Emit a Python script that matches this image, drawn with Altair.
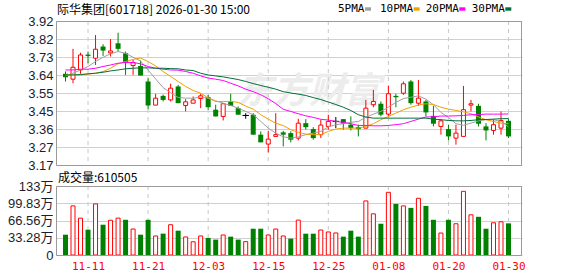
import json
import altair as alt
import pandas as pd
import numpy as np

# ---------------- data ----------------
dates = ["11-06","11-07","11-10","11-11","11-12","11-13","11-14","11-17","11-18","11-19",
         "11-20","11-21","11-24","11-25","11-26","11-27","11-28","12-01","12-02","12-03",
         "12-04","12-05","12-08","12-09","12-10","12-11","12-12","12-15","12-16","12-17",
         "12-18","12-19","12-22","12-23","12-24","12-25","12-26","12-29","12-30","12-31",
         "01-05","01-06","01-07","01-08","01-09","01-12","01-13","01-14","01-15","01-16",
         "01-19","01-20","01-21","01-22","01-23","01-26","01-27","01-28","01-29","01-30"]

opens = [3.645,3.617,3.665,3.745,3.726,3.787,3.754,3.804,3.752,3.688,
         3.686,3.605,3.482,3.530,3.509,3.579,3.480,3.492,3.516,3.523,
         3.458,3.423,3.501,3.466,3.428,3.432,3.328,3.279,3.319,3.340,
         3.336,3.310,3.388,3.357,3.328,3.371,3.397,3.409,3.380,3.367,
         3.362,3.484,3.489,3.435,3.530,3.544,3.605,3.492,3.501,3.426,
         3.371,3.357,3.310,3.319,3.482,3.478,3.371,3.350,3.362,3.400]
highs = [3.657,3.775,3.755,3.761,3.847,3.799,3.826,3.859,3.761,3.717,
         3.714,3.622,3.541,3.537,3.593,3.587,3.513,3.527,3.541,3.535,
         3.484,3.492,3.541,3.475,3.440,3.440,3.345,3.348,3.440,3.348,
         3.345,3.411,3.409,3.367,3.406,3.432,3.420,3.409,3.423,3.380,
         3.509,3.561,3.501,3.582,3.541,3.605,3.613,3.613,3.509,3.478,
         3.409,3.380,3.380,3.582,3.509,3.489,3.388,3.409,3.449,3.409]
lows = [3.605,3.596,3.645,3.700,3.691,3.738,3.735,3.761,3.639,3.639,
        3.636,3.461,3.482,3.501,3.501,3.492,3.449,3.492,3.466,3.458,
        3.423,3.402,3.478,3.432,3.411,3.328,3.288,3.236,3.319,3.267,
        3.288,3.298,3.354,3.302,3.310,3.354,3.362,3.354,3.350,3.319,
        3.362,3.471,3.423,3.423,3.471,3.535,3.484,3.478,3.423,3.371,
        3.328,3.298,3.276,3.319,3.449,3.371,3.298,3.328,3.328,3.311]
closes = [3.627,3.679,3.743,3.738,3.773,3.766,3.764,3.775,3.703,3.703,
          3.636,3.480,3.518,3.509,3.570,3.492,3.499,3.509,3.530,3.471,
          3.423,3.489,3.478,3.432,3.428,3.328,3.288,3.305,3.328,3.328,
          3.302,3.388,3.367,3.310,3.378,3.397,3.397,3.385,3.362,3.357,
          3.466,3.501,3.432,3.541,3.523,3.593,3.492,3.518,3.444,3.385,
          3.400,3.319,3.336,3.458,3.489,3.385,3.350,3.380,3.402,3.319]

ma5 = [3.634,3.648,3.665,3.683,3.709,3.731,3.749,3.761,3.752,3.731,
       3.712,3.665,3.618,3.573,3.546,3.522,3.518,3.518,3.523,3.518,
       3.504,3.492,3.480,3.466,3.449,3.432,3.397,3.362,3.336,3.317,
       3.310,3.316,3.328,3.336,3.345,3.368,3.380,3.385,3.392,3.397,
       3.418,3.435,3.449,3.471,3.496,3.516,3.523,3.530,3.513,3.484,
       3.444,3.418,3.385,3.377,3.388,3.400,3.406,3.406,3.397,3.368]
ma10 = [3.639,3.639,3.639,3.643,3.648,3.657,3.674,3.697,3.709,3.720,
        3.727,3.709,3.686,3.657,3.631,3.605,3.579,3.558,3.544,3.520,
        3.501,3.501,3.501,3.496,3.477,3.461,3.432,3.409,3.388,3.375,
        3.354,3.340,3.331,3.328,3.328,3.345,3.357,3.362,3.362,3.362,
        3.371,3.385,3.406,3.423,3.440,3.458,3.471,3.482,3.489,3.485,
        3.471,3.461,3.454,3.447,3.437,3.420,3.406,3.397,3.388,3.385]
ma20 = [3.665,3.665,3.669,3.669,3.674,3.683,3.691,3.700,3.704,3.704,
        3.697,3.683,3.674,3.669,3.665,3.664,3.657,3.648,3.634,3.623,
        3.617,3.610,3.596,3.582,3.565,3.552,3.536,3.515,3.490,3.460,
        3.449,3.437,3.426,3.418,3.408,3.404,3.397,3.392,3.385,3.376,
        3.376,3.374,3.374,3.376,3.380,3.385,3.397,3.409,3.420,3.421,
        3.425,3.425,3.426,3.428,3.432,3.433,3.435,3.435,3.435,3.436]
ma30 = [3.639,3.639,3.641,3.645,3.648,3.653,3.660,3.665,3.671,3.674,
        3.676,3.676,3.674,3.674,3.672,3.671,3.665,3.662,3.648,3.639,
        3.634,3.629,3.622,3.615,3.605,3.594,3.584,3.575,3.565,3.552,
        3.545,3.539,3.532,3.521,3.511,3.498,3.485,3.471,3.454,3.432,
        3.420,3.414,3.414,3.414,3.414,3.414,3.414,3.414,3.414,3.409,
        3.406,3.402,3.400,3.400,3.402,3.406,3.407,3.409,3.411,3.412]

# volume in units of 万 (10k shares)
vols = [39.2,94.7,71.1,48.8,98.6,58.4,67.0,71.1,67.9,50.1,
        39.2,67.9,36.7,41.2,58.4,46.9,34.8,25.5,36.7,32.9,
        29.7,38.6,35.4,29.7,25.8,50.7,50.7,38.6,50.1,36.7,
        31.6,67.3,41.1,41.1,48.2,44.4,42.5,35.4,46.9,35.4,
        104.3,79.4,60.3,120.9,98.6,94.7,90.9,109.4,94.7,67.9,
        42.4,67.9,60.3,122.8,77.5,73.7,50.7,62.2,64.1,61.05]
vol_dir = ["g","r","r","g","r","g","r","r","g","r",
           "g","g","r","g","r","g","r","r","r","g",
           "g","r","g","g","r","g","g","r","r","r",
           "g","r","g","g","r","r","r","g","g","g",
           "r","r","g","r","g","r","g","r","g","g",
           "r","g","r","r","r","g","g","r","r","g"]

price_labels = ["3.17","3.27","3.36","3.45","3.55","3.64","3.73","3.82","3.92"]
vol_labels = ["0","33.28万","66.56万","99.83万","133万"]
tick_idx = [3, 11, 19, 27, 35, 43, 51, 59]
title_text = "际华集团[601718] 2026-01-30 15:00"
vol_text = "成交量:610505"
legend_names = ["5PMA", "10PMA", "20PMA", "30PMA"]
ma_colors = ["#a0a0a0", "#f0a000", "#ff00ff", "#00703a"]

# ---------------- layout ----------------
W, H = 466, 234
PH = 144            # price panel bottom (px from top of plot)
VT, VB = 165, 234   # volume panel top / bottom
PMIN, PMAX = 3.17, 3.92
PSTEP = (PMAX - PMIN) / 8
VMAX = 133.1
RED, GREEN = "#ff0000", "#008000"
GRID = "#d0d0d0"
FRAME = "#9a9a9a"

df = pd.DataFrame(dict(i=range(len(dates)), date=dates, open=opens, high=highs,
                       low=lows, close=closes, ma5=ma5, ma10=ma10, ma20=ma20,
                       ma30=ma30, vol=vols, vdir=vol_dir))
df["dir"] = np.select([df.close > df.open, df.close < df.open], ["up", "down"], "flat")
df["lo"] = df[["open", "close"]].min(axis=1)
df["hi"] = df[["open", "close"]].max(axis=1)

xscale = alt.Scale(domain=[-0.6, 60.13], nice=False, zero=False)
xaxis = alt.Axis(values=tick_idx, labelExpr=json.dumps(dates) + "[datum.value]",
                 title=None, grid=False, ticks=False, domain=False,
                 labelColor=RED, labelFont="DejaVu Sans Mono", labelFontSize=11,
                 labelPadding=5, labelFlush=False, labelOverlap=False)


def X(field="i"):
    return alt.X(f"{field}:Q", scale=xscale, axis=xaxis)


pscale = alt.Scale(domain=[PMIN, PMAX], range=[PH, 0], nice=False, zero=False)
vscale = alt.Scale(domain=[0, VMAX], range=[VB, VT], nice=False, zero=False)

price_axis = alt.Axis(orient="left", values=[PMIN + k * PSTEP for k in range(9)],
                      labelExpr=json.dumps(price_labels) + f"[round((datum.value - {PMIN}) / {PSTEP})]",
                      title=None, ticks=False, domain=False, grid=True, gridColor=GRID,
                      labelFont="Liberation Sans", labelFontSize=13, labelColor="#1c1c2c",
                      labelPadding=3, labelFlush=False, labelOverlap=False)
vol_axis = alt.Axis(orient="left", values=[VMAX * k / 4 for k in range(5)],
                    labelExpr=json.dumps(vol_labels) + f"[round(datum.value / {VMAX / 4})]",
                    title=None, ticks=False, domain=False, grid=True, gridColor=GRID,
                    labelFont="Liberation Sans, Noto Sans CJK SC", labelFontSize=13,
                    labelColor="#1c1c2c", labelPadding=3, labelFlush=False, labelOverlap=False)


def PY(field, axis=None):
    return alt.Y(f"{field}:Q", scale=pscale, axis=axis)


def VY(field, axis=None):
    return alt.Y(f"{field}:Q", scale=vscale, axis=axis)


one = pd.DataFrame({"k": [0]})
ticks_df = pd.DataFrame({"i": tick_idx})
base = alt.Chart(df)

layers = []

# watermark
layers.append(alt.Chart(one).mark_text(text="东方财富", font="Noto Sans CJK SC", fontSize=36,
                                        fontWeight="bold", fontStyle="italic", color="#ececec",
                                        align="center", baseline="middle")
              .encode(x=alt.value(253), y=alt.value(71)))

# price grid axis carrier + vertical dashed lines
layers.append(alt.Chart(ticks_df).mark_rule(color="#c8c8c8", strokeDash=[4, 4], strokeWidth=1)
              .encode(x=X(), y=alt.value(0), y2=alt.value(PH)))
layers.append(alt.Chart(ticks_df).mark_rule(color="#c8c8c8", strokeDash=[4, 4], strokeWidth=1)
              .encode(x=X(), y=alt.value(VT), y2=alt.value(VB)))

# wicks
layers.append(base.mark_rule(strokeWidth=1).encode(
    x=X(), y=PY("low", price_axis), y2="high:Q",
    color=alt.Color("dir:N", scale=alt.Scale(domain=["up", "down", "flat"],
                                             range=[RED, GREEN, "#000000"]), legend=None)))
# bodies
layers.append(base.transform_filter("datum.dir == 'down'").mark_bar(size=5, color=GREEN)
              .encode(x=X(), y=PY("lo"), y2="hi:Q"))
layers.append(base.transform_filter("datum.dir == 'up'")
              .mark_bar(size=4, fill="#ffffff", stroke=RED, strokeWidth=1)
              .encode(x=X(), y=PY("lo"), y2="hi:Q"))
layers.append(base.transform_filter("datum.dir == 'flat'")
              .mark_bar(size=6, fill="#000000", stroke="#000000", strokeWidth=1)
              .encode(x=X(), y=PY("lo"), y2="hi:Q"))

# moving averages
for name, col in zip(["ma5", "ma10", "ma20", "ma30"], ma_colors):
    layers.append(base.mark_line(color=col, strokeWidth=1).encode(x=X(), y=PY(name)))

# volume bars
layers.append(base.transform_filter("datum.vdir == 'g'").mark_bar(size=5, color=GREEN)
              .encode(x=X(), y=VY("vol", vol_axis), y2=alt.datum(0)))
layers.append(base.transform_filter("datum.vdir == 'r'")
              .mark_bar(size=4, fill="#ffffff", stroke=RED, strokeWidth=1)
              .encode(x=X(), y=VY("vol"), y2=alt.datum(0)))

# frames
for top, bot in [(0, PH), (VT, VB)]:
    layers.append(alt.Chart(one).mark_rect(fillOpacity=0, stroke=FRAME, strokeWidth=1)
                  .encode(x=alt.value(0.5), x2=alt.value(W - 0.5),
                          y=alt.value(top + 0.5), y2=alt.value(bot + 0.5)))

# title and volume caption
layers.append(alt.Chart(one).mark_text(text=title_text, font="Noto Sans CJK SC", fontSize=12,
                                        color="#000000", align="left", baseline="middle")
              .encode(x=alt.value(1), y=alt.value(-11.5)))
layers.append(alt.Chart(one).mark_text(text=vol_text, font="Noto Sans CJK SC", fontSize=12,
                                        color="#000000", align="left", baseline="middle")
              .encode(x=alt.value(2), y=alt.value(156.5)))

# MA legend
text_x = [282, 324, 369.7, 415.7]
for name, col, tx in zip(legend_names, ma_colors, text_x):
    layers.append(alt.Chart(one).mark_text(text=name, font="DejaVu Sans Mono", fontSize=11,
                                            color="#000000", align="left", baseline="middle")
                  .encode(x=alt.value(tx), y=alt.value(-12.3)))
    sx = tx + 6.6 * len(name) + 0.6
    layers.append(alt.Chart(one).mark_rect(color=col)
                  .encode(x=alt.value(sx), x2=alt.value(sx + 6),
                          y=alt.value(-13.7), y2=alt.value(-10.3)))

chart = (alt.layer(*layers)
         .resolve_scale(y="independent")
         .properties(width=W, height=H,
                     autosize=alt.AutoSizeParams(type="none"),
                     padding={"left": 56, "top": 21, "right": 56, "bottom": 21},
                     background="#ffffff")
         .configure_view(stroke=None))

chart.save("out.html", embed_options={"renderer": "svg", "actions": False})
